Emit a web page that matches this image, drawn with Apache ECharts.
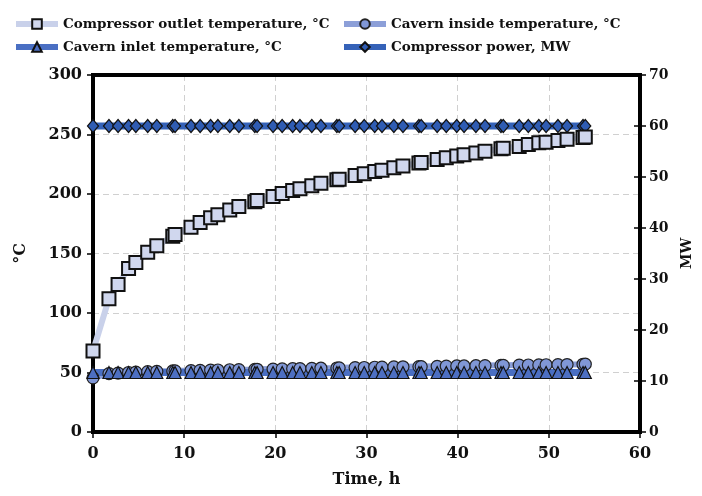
<!DOCTYPE html>
<html>
<head>
<meta charset="utf-8">
<script src="https://cdn.jsdelivr.net/npm/echarts@6/dist/echarts.min.js"></script>
<style>
  html, body { margin: 0; padding: 0; background: #fff; }
  #chart { width: 702px; height: 496px; }
</style>
</head>
<body>
<div id="chart"></div>
<script>
// Temps (h) des points mesurés
const times = [
  0,
  1.75, 2.75, 3.9, 4.7, 6.0, 7.0, 8.75, 9.0,
  10.75, 11.75, 12.9, 13.7, 15.0, 16.0, 17.75, 18.0,
  19.75, 20.75, 21.9, 22.7, 24.0, 25.0, 26.75, 27.0,
  28.75, 29.75, 30.9, 31.7, 33.0, 34.0, 35.75, 36.0,
  37.75, 38.75, 39.9, 40.7, 42.0, 43.0, 44.75, 45.0,
  46.75, 47.75, 48.9, 49.7, 51.0, 52.0, 53.75, 54.0
];
const outletTemp = [
  68,
  112, 124, 137.5, 142.5, 151, 156.5, 164.5, 166,
  172, 176, 180, 182.5, 186.5, 189.5, 193.5, 194.5,
  198, 200.5, 203, 204.5, 207, 209, 212, 212.5,
  215.5, 217, 219, 220, 222, 223.5, 226, 226.5,
  229, 230.5, 232, 233, 234.5, 236, 238, 238.5,
  240, 241.5, 243, 243.5, 245, 246, 247.5, 248
];
const insideTemp = [
  45.5,
  49, 49.5, 50, 50.3, 50.7, 51, 51.3, 51.4,
  51.6, 51.8, 52, 52.1, 52.3, 52.4, 52.6, 52.7,
  52.9, 53, 53.2, 53.3, 53.5, 53.6, 53.8, 53.9,
  54.1, 54.2, 54.4, 54.5, 54.7, 54.8, 55, 55,
  55.2, 55.3, 55.5, 55.5, 55.7, 55.8, 56, 56,
  56.2, 56.3, 56.4, 56.5, 56.6, 56.7, 56.9, 57
];
const inletTemp = times.map(() => 50);   // constante
const powerMW = times.map(() => 60);     // constante

// bord supérieur du cadre (étendue de l'axe x, haut de l'axe °C)
const frameX = [0, 60];
const frameTop = 300;

const names = {
  outlet: 'Compressor outlet temperature, °C',
  inside: 'Cavern inside temperature, °C',
  inlet: 'Cavern inlet temperature, °C',
  power: 'Compressor power, MW'
};

const pairs = vals => times.map((t, i) => [t, vals[i]]);
const font = 'DejaVu Serif';

const chart = echarts.init(document.getElementById('chart'), null, { renderer: 'canvas' });

const legendText = { fontFamily: font, fontWeight: 'bold', fontSize: 13.5, color: '#111' };
const legendCommon = {
  top: 12, orient: 'vertical', itemGap: 9,
  itemWidth: 42, itemHeight: 12,
  lineStyle: { width: 6 },
  textStyle: legendText
};

const option = {
  animation: false,
  backgroundColor: '#fff',
  legend: [
    Object.assign({ left: 8, data: [names.outlet, names.inlet] }, legendCommon),
    Object.assign({ left: 336, data: [names.inside, names.power] }, legendCommon)
  ],
  grid: {
    left: 93, right: 55, top: 75, bottom: 64,
    show: true, borderColor: '#000', borderWidth: 4
  },
  xAxis: {
    type: 'value', min: 0, max: 60, interval: 10,
    name: 'Time, h', nameLocation: 'middle', nameGap: 40,
    nameTextStyle: { fontFamily: font, fontWeight: 'bold', fontSize: 16, color: '#111' },
    axisLine: { lineStyle: { color: '#000', width: 4 } },
    axisTick: { show: true, length: 6, lineStyle: { color: '#000', width: 1.5 } },
    axisLabel: { fontFamily: font, fontWeight: 'bold', fontSize: 16, color: '#111', margin: 14 },
    splitLine: { show: true, showMinLine: false, showMaxLine: false,
      lineStyle: { color: '#d0d0d0', type: [6, 4], width: 1 } }
  },
  yAxis: [
    {
      type: 'value', min: 0, max: 300, interval: 50, position: 'left',
      name: '°C', nameLocation: 'middle', nameGap: 64, nameRotate: 90,
      nameTextStyle: { fontFamily: font, fontWeight: 'bold', fontSize: 16, color: '#111' },
      axisLine: { show: true, lineStyle: { color: '#000', width: 4 } },
      axisTick: { show: true, length: 6, lineStyle: { color: '#000', width: 1.5 } },
      axisLabel: { fontFamily: font, fontWeight: 'bold', fontSize: 16, color: '#111', margin: 11 },
      splitLine: { show: true, showMinLine: false, showMaxLine: false,
        lineStyle: { color: '#d0d0d0', type: [6, 4], width: 1 } }
    },
    {
      type: 'value', min: 0, max: 70, interval: 10, position: 'right',
      name: 'MW', nameLocation: 'middle', nameGap: 40, nameRotate: 90,
      nameTextStyle: { fontFamily: font, fontWeight: 'bold', fontSize: 14, color: '#111' },
      axisLine: { show: true, lineStyle: { color: '#000', width: 4 } },
      axisTick: { show: true, length: 6, lineStyle: { color: '#000', width: 1.5 } },
      axisLabel: { fontFamily: font, fontWeight: 'bold', fontSize: 14, color: '#111', margin: 9 },
      splitLine: { show: false }
    },
    {
      // petits traits intérieurs de l'axe droit (graduation croisée)
      type: 'value', min: 0, max: 70, interval: 10, position: 'right',
      axisLine: { show: false },
      axisTick: { show: true, inside: true, length: 6, lineStyle: { color: '#000', width: 1.5 } },
      axisLabel: { show: false },
      splitLine: { show: false }
    }
  ],
  series: [
    {
      // cadre : trait noir en haut de la zone de tracé
      name: 'frame', type: 'line', yAxisIndex: 0,
      data: frameX.map(x => [x, frameTop]),
      symbol: 'none', silent: true, clip: false, z: 20,
      lineStyle: { color: '#000', width: 4, cap: 'square' },
      emphasis: { disabled: true },
      tooltip: { show: false }
    },
    {
      name: names.power, type: 'line', yAxisIndex: 1,
      data: pairs(powerMW),
      symbol: 'diamond', symbolSize: [11, 13],
      lineStyle: { color: '#3562b8', width: 7 },
      itemStyle: { color: '#2f5cb3', borderColor: '#111', borderWidth: 1.2 }
    },
    {
      name: names.outlet, type: 'line', yAxisIndex: 0,
      data: pairs(outletTemp),
      symbol: 'rect', symbolSize: 13,
      lineStyle: { color: '#c9d1ea', width: 6 },
      itemStyle: { color: '#d0d7ee', borderColor: '#111', borderWidth: 2 }
    },
    {
      name: names.inside, type: 'line', yAxisIndex: 0,
      data: pairs(insideTemp),
      symbol: 'circle', symbolSize: 12,
      lineStyle: { color: '#8c9fd8', width: 6 },
      itemStyle: { color: '#8097d6', borderColor: '#222', borderWidth: 1.2 }
    },
    {
      name: names.inlet, type: 'line', yAxisIndex: 0,
      data: pairs(inletTemp),
      symbol: 'triangle', symbolSize: 12,
      lineStyle: { color: '#4a6fc3', width: 7 },
      itemStyle: { color: '#4d6fc2', borderColor: '#111', borderWidth: 1.2 }
    }
  ]
};

chart.setOption(option);
</script>
</body>
</html>
